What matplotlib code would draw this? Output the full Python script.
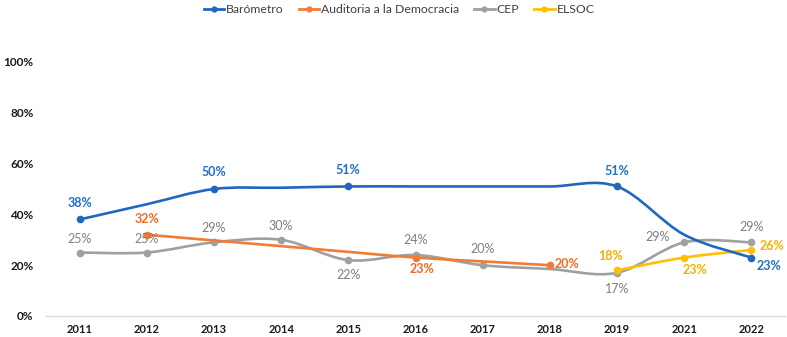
import numpy as np
import matplotlib
matplotlib.use("Agg")
import matplotlib.pyplot as plt
from matplotlib.path import Path
from matplotlib.patches import PathPatch
from matplotlib.lines import Line2D

plt.rcParams['font.family'] = ['Lato', 'DejaVu Sans']

years = ["2011", "2012", "2013", "2014", "2015", "2016", "2017", "2018", "2019", "2021", "2022"]

# survey values (%); None = no survey that year
barometro_vals = [38, None, 50, None, 51, None, None, None, 51, 32, 23]
barometro_marked = [True, False, True, False, True, False, False, False, True, False, True]

auditoria_vals = [None, 32, None, None, None, 23, None, 20, None, None, None]
cep_vals = [25, 25, 29, 30, 22, 24, 20, None, 17, 29, 29]
elsoc_vals = [None, None, None, None, None, None, None, None, 18, 23, 26]

yticks = [0, 20, 40, 60, 80, 100]

C_BLUE, C_BLUE_T = "#2167C0", "#1F6FC5"
C_ORANGE, C_ORANGE_T = "#F07C35", "#F26A21"
C_GRAY, C_GRAY_T = "#A0A0A0", "#7F7F7F"
C_YELLOW, C_YELLOW_T = "#FFC000", "#F5B000"

fig = plt.figure(figsize=(7.87, 3.37), dpi=100)
ax = fig.add_axes([46 / 787, 21 / 337, 739 / 787, 254 / 337])
ax.set_xlim(-0.5, len(years) - 0.5)
ax.set_ylim(0, 100)


def smooth_path(xs, ys):
    # cubic Bezier spline through the points (Catmull-Rom style)
    pts = np.column_stack([xs, ys]).astype(float)
    n = len(pts)
    verts = [pts[0]]
    codes = [Path.MOVETO]
    for i in range(n - 1):
        p0 = pts[i - 1] if i > 0 else pts[i]
        p1 = pts[i]
        p2 = pts[i + 1]
        p3 = pts[i + 2] if i + 2 < n else pts[i + 1]
        c1 = p1 + (p2 - p0) / 6.0
        c2 = p2 - (p3 - p1) / 6.0
        verts += [c1, c2, p2]
        codes += [Path.CURVE4] * 3
    return Path(verts, codes)


def draw_series(vals, color, z, marked=None):
    idx = np.array([i for i, v in enumerate(vals) if v is not None])
    v = np.array([vals[i] for i in idx], dtype=float)
    # empty categories are bridged (connect data points with line)
    xs = np.arange(idx[0], idx[-1] + 1)
    ys = np.interp(xs, idx, v)
    patch = PathPatch(smooth_path(xs, ys), facecolor="none", edgecolor=color,
                      lw=1.9, zorder=z, capstyle="round", joinstyle="round")
    ax.add_patch(patch)
    if marked is None:
        marked = [val is not None for val in vals]
    mx = [i for i in idx if marked[i]]
    ax.plot(mx, [vals[i] for i in mx], "o", color=color, ms=4.5, zorder=z + 0.5,
            linestyle="none")


draw_series(cep_vals, C_GRAY, 2)
draw_series(auditoria_vals, C_ORANGE, 3)
draw_series(elsoc_vals, C_YELLOW, 4)
draw_series(barometro_vals, C_BLUE, 5, barometro_marked)


def label(vals, color, offsets, bold, marked=None):
    pts = [(i, v) for i, v in enumerate(vals)
           if v is not None and (marked is None or marked[i])]
    for (x, v), (dx, dy) in zip(pts, offsets):
        ax.annotate(f"{v}%", (x, v), xytext=(dx, dy), textcoords="offset points",
                    ha="center", va="center", fontsize=9, color=color,
                    fontweight="bold" if bold else "normal", zorder=10)


label(barometro_vals, C_BLUE_T,
      [(0, 12), (0, 12), (0, 12), (0, 11), (13, -6)], True, barometro_marked)
label(auditoria_vals, C_ORANGE_T,
      [(0, 11), (5, -8), (12, 1)], True)
label(cep_vals, C_GRAY_T,
      [(0, 10), (0, 10), (0, 10), (0, 10), (0, -11), (0, 11), (0, 12), (0, -12), (-19, 4), (0, 11)], False)
label(elsoc_vals, C_YELLOW_T,
      [(-5, 10), (8, -9), (15, 3)], True)

ax.set_yticks(yticks)
ax.set_yticklabels([f"{t}%" for t in yticks], fontsize=8.5, fontweight="bold", color="#1a1a1a")
ax.set_xticks(range(len(years)))
ax.set_xticklabels(years, fontsize=8, fontweight="bold", color="#1a1a1a")
ax.tick_params(axis="both", length=0)
ax.tick_params(axis="x", pad=6)
ax.tick_params(axis="y", pad=9)
for s in ["top", "right", "left"]:
    ax.spines[s].set_visible(False)
ax.spines["bottom"].set_color("#D9D9D9")
ax.spines["bottom"].set_linewidth(1.0)

handles = [Line2D([], [], color=c, lw=2, marker="o", ms=3.5) for c in (C_BLUE, C_ORANGE, C_GRAY, C_YELLOW)]
fig.legend(handles, ["Barómetro", "Auditoria a la Democracia", "CEP", "ELSOC"],
           loc="upper center", bbox_to_anchor=(0.507, 1.02), ncol=4, frameon=False,
           fontsize=8.8, handlelength=1.7, handletextpad=0.15, columnspacing=1.2,
           labelcolor="#404040")

fig.savefig("out.png", dpi=100)
